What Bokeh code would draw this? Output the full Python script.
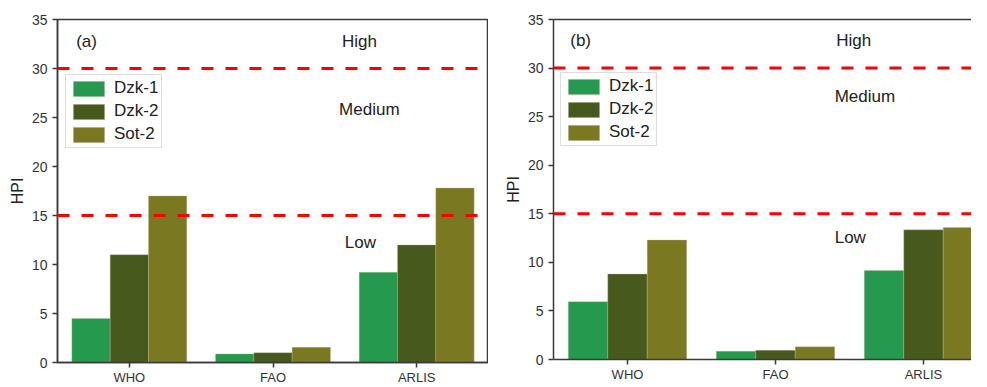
from bokeh.plotting import figure
from bokeh.models import (Range1d, FixedTicker, SingleIntervalTicker, Span, Label,
                          Legend, LegendItem, LinearAxis, ColumnDataSource)
from bokeh.layouts import row
from bokeh.embed import file_html
from bokeh.resources import INLINE

# ---------------- data ----------------
categories = ["WHO", "FAO", "ARLIS"]
series = ["Dzk-1", "Dzk-2", "Sot-2"]
colors = ["#259A4E", "#48591E", "#7A7821"]

a_dzk1 = [4.5, 0.88, 9.2]
a_dzk2 = [11.0, 1.0, 12.0]
a_sot2 = [17.0, 1.55, 17.8]

b_dzk1 = [5.95, 0.85, 9.15]
b_dzk2 = [8.8, 0.95, 13.35]
b_sot2 = [12.3, 1.3, 13.6]

thresholds = [15, 30]
zone_names = ["High", "Medium", "Low"]

FONT = "Liberation Sans"
AXC = "#3a3a3a"
TXT = "#222222"


def make_panel(tag, values, frame_w, frame_h, x_end, left_border, top_border,
               leg_top, leg_left, txt_pos, with_outline):
    p = figure(frame_width=frame_w, frame_height=frame_h,
               x_range=Range1d(0, x_end), y_range=Range1d(0, 35),
               output_backend="svg", toolbar_location=None,
               min_border_left=left_border, min_border_right=0,
               min_border_top=top_border, min_border_bottom=0)
    p.xgrid.visible = False
    p.ygrid.visible = False
    p.background_fill_color = "white"
    p.border_fill_color = "white"
    if with_outline:
        p.outline_line_color = AXC
        p.outline_line_width = 1.5
        p.outline_line_alpha = 1.0
    else:
        p.outline_line_color = None
        top = LinearAxis(ticker=FixedTicker(ticks=[]), axis_line_color=AXC,
                         axis_line_width=1.5, major_tick_out=0, major_tick_in=0,
                         minor_tick_out=0, minor_tick_in=0,
                         major_label_text_font_size="0px", major_label_standoff=0)
        p.add_layout(top, "above")

    n = len(series)
    w = 0.8 / n
    renderers = []
    for j, (name, vals, col) in enumerate(zip(series, values, colors)):
        xs = [i + 0.5 + (j - (n - 1) / 2) * w for i in range(len(categories))]
        src = ColumnDataSource(dict(x=xs, top=vals, cat=categories))
        r = p.vbar(x="x", top="top", width=w, bottom=0, source=src,
                   fill_color=col, line_color="#b8b8a0", line_width=0.7,
                   line_alpha=0.5)
        renderers.append((name, r))

    for t in thresholds:
        p.add_layout(Span(location=t, dimension="width", line_color="#ff0000",
                          line_width=3, line_dash="12 12"))

    # axes
    xa = p.below[0]
    xa.axis_label = None
    xa.ticker = FixedTicker(ticks=[i + 0.5 for i in range(len(categories))])
    xa.major_label_overrides = {i + 0.5: c for i, c in enumerate(categories)}
    ya = p.left[0]
    ya.ticker = SingleIntervalTicker(interval=5)
    ya.axis_label = "HPI"
    ya.axis_label_text_font_style = "normal"
    ya.axis_label_text_font_size = "16px"
    ya.axis_label_text_font = FONT
    ya.axis_label_text_color = TXT
    ya.axis_label_standoff = 3
    for ax in (xa, ya):
        ax.axis_line_color = AXC
        ax.axis_line_width = 1.5
        ax.major_tick_line_color = AXC
        ax.major_tick_line_width = 1.5
        ax.major_tick_in = 0
        ax.minor_tick_line_color = None
        ax.minor_tick_out = 0
        ax.minor_tick_in = 0
        ax.major_label_text_font = FONT
        ax.major_label_text_color = "#333333"
    ya.major_tick_out = 5
    ya.major_label_standoff = 5
    ya.major_label_text_font_size = "14px"
    xa.major_tick_out = 5
    xa.major_label_standoff = 2
    xa.major_label_text_font_size = "13px"

    # texts
    texts = [tag] + zone_names
    for t, (x, y) in zip(texts, txt_pos):
        p.add_layout(Label(x=x, y=y, text=t, text_font=FONT, text_font_size="17px",
                           text_color=TXT, text_baseline="middle",
                           text_align="left"))

    leg_h = 3 * 19 + 2 * 3 + 2 * 3
    leg = Legend(items=[LegendItem(label=nm, renderers=[r]) for nm, r in renderers],
                 location=(leg_left, frame_h - leg_top - leg_h), orientation="vertical",
                 glyph_width=39, glyph_height=19, label_height=19,
                 label_standoff=6, spacing=3, padding=3, margin=0,
                 label_text_font=FONT, label_text_font_size="17px",
                 label_text_color=TXT, border_line_color="#bdbdbd",
                 border_line_width=1.5, background_fill_color="white",
                 background_fill_alpha=1.0)
    p.add_layout(leg, "center")
    return p


pa = make_panel("(a)", [a_dzk1, a_dzk2, a_sot2], frame_w=431, frame_h=343, x_end=3.0,
                left_border=57, top_border=19, leg_top=60, leg_left=8,
                txt_pos=[(0.13, 32.75), (1.98, 32.75), (1.96, 25.8), (2.0, 12.2)],
                with_outline=True)
pb = make_panel("(b)", [b_dzk1, b_dzk2, b_sot2], frame_w=418, frame_h=340, x_end=418 / 148,
                left_border=65, top_border=18, leg_top=58, leg_left=7,
                txt_pos=[(0.113, 32.85), (1.91, 32.85), (1.90, 27.1), (1.90, 12.56)],
                with_outline=False)

layout = row(pa, pb, spacing=0)
open("out.html", "w").write(file_html(layout, INLINE))
